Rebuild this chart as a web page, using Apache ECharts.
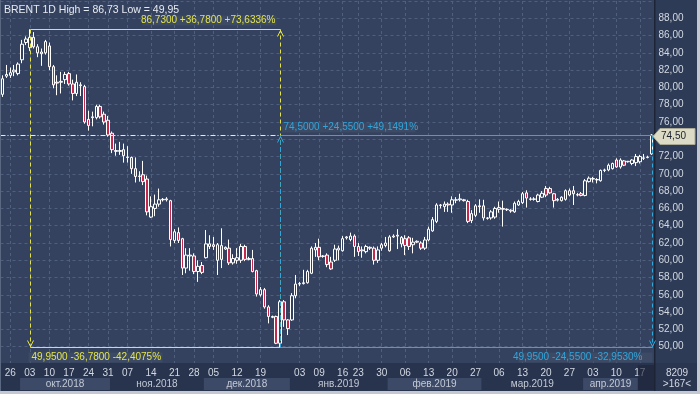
<!DOCTYPE html>
<html><head><meta charset="utf-8">
<script src="https://cdn.jsdelivr.net/npm/echarts@6/dist/echarts.min.js"></script>
<style>html,body{margin:0;padding:0;background:#34425f;}#chart{width:700px;height:394px;}</style>
</head><body><div id="chart"></div>
<script>
// ---- DATA ----
const open = [79.2,81.3,81.4,81.8,81.6,83.2,85.2,84.6,85.8,84.0,84.1,84.0,84.8,82.4,80.6,80.6,80.9,81.6,80.4,79.3,
80.3,80.1,76.3,76.5,76.5,77.8,76.9,76.2,74.7,72.7,72.6,72.8,71.9,71.9,70.6,69.7,69.9,69.4,65.0,66.0,
66.5,67.0,67.0,66.9,62.3,63.2,62.5,59.1,60.6,60.5,58.7,59.4,60.3,61.6,61.8,60.0,61.7,61.3,61.4,59.7,
60.0,60.0,61.6,60.1,60.2,58.8,56.0,56.6,54.6,53.5,53.5,50.4,55.2,53.1,53.1,55.9,57.25,57.3,57.4,58.5,
61.2,61.5,60.45,60.6,59.8,60.0,61.2,61.1,62.6,62.4,62.8,61.6,61.1,61.0,61.5,61.4,60.0,61.4,61.7,61.1,
62.7,62.8,62.65,62.5,62.6,61.8,62.2,62.0,61.4,62.35,63.4,64.5,66.35,66.2,66.5,66.4,66.95,67.0,67.0,66.8,
64.6,65.2,66.3,66.3,64.85,64.9,65.0,65.9,66.0,65.9,65.8,65.6,66.4,66.66,67.8,67.1,67.05,66.8,67.3,68.3,
68.3,67.7,66.95,66.9,67.05,67.55,68.05,67.6,67.7,67.5,69.1,69.4,69.3,69.2,70.4,70.45,70.6,71.6,70.8,71.5,
71.4,71.2,71.3,71.4,71.8,71.9,72.3];
const close = [81.0,81.5,81.7,82.0,82.7,85.0,85.6,85.8,84.7,84.7,83.9,85.3,82.4,80.3,80.5,80.7,81.5,80.4,79.3,80.6,
80.2,76.0,75.6,76.6,77.8,76.6,76.0,74.5,72.8,72.6,72.7,72.1,71.95,70.6,69.7,69.75,69.1,65.6,66.2,66.5,
67.0,67.05,67.1,62.4,63.3,62.3,59.1,60.6,60.5,58.7,59.3,58.6,61.9,61.9,61.6,61.8,60.1,61.5,59.7,60.2,
60.3,61.6,60.1,60.2,58.7,56.1,56.6,54.6,53.5,53.4,50.4,55.2,53.1,52.1,55.9,57.25,57.3,57.4,58.7,61.4,
61.5,60.4,60.5,59.5,59.0,61.3,61.4,62.5,62.7,62.8,61.6,61.0,61.2,61.6,61.4,60.0,61.2,61.8,62.0,62.7,
62.8,62.9,61.9,61.7,61.6,62.1,62.1,61.4,62.35,63.6,64.7,66.4,66.4,66.5,66.4,67.0,67.0,67.1,66.9,64.5,
65.4,66.3,66.2,64.9,64.9,65.6,66.0,66.1,65.9,65.85,65.7,66.6,66.8,67.7,67.2,67.05,67.1,67.55,67.75,67.55,
67.8,66.9,67.05,67.3,68.05,68.05,67.7,67.55,67.5,69.2,69.5,69.45,69.35,70.4,70.45,71.0,71.2,70.8,71.6,71.0,
71.45,71.6,72.0,72.0,71.85,71.95,74.5];
const low = [78.9,81.1,81.1,81.3,81.4,82.8,84.9,84.2,84.5,83.5,82.5,83.8,82.0,79.9,79.1,79.3,80.4,80.2,78.5,79.0,
79.0,75.8,75.0,75.5,76.3,76.4,75.7,74.3,72.4,72.1,72.2,71.3,71.3,70.0,69.0,69.1,68.7,65.2,64.9,65.1,
66.2,66.8,66.8,61.6,62.0,62.0,58.3,58.5,58.8,58.4,57.5,58.4,60.2,61.3,61.2,58.3,59.1,61.2,59.45,59.5,
59.6,59.7,59.9,60.0,58.6,55.8,55.8,54.4,52.7,53.3,50.3,49.95,52.3,51.35,53.0,55.6,57.0,57.2,57.3,58.4,
60.4,60.0,60.3,59.2,58.9,59.8,60.0,61.0,62.4,62.2,60.4,60.5,60.3,60.8,61.2,59.5,59.7,61.1,61.5,61.0,
62.6,61.3,61.5,60.6,61.2,60.8,62.0,61.2,61.2,62.2,63.3,64.3,66.0,65.6,65.6,65.5,66.6,66.8,66.8,64.3,
64.3,65.0,65.5,64.6,64.7,64.7,64.8,65.5,63.9,65.7,65.5,65.5,66.3,66.5,66.1,66.9,66.9,66.7,67.2,67.3,
67.7,66.1,66.8,66.8,66.9,67.4,66.4,67.4,67.4,67.4,69.0,69.0,68.9,69.1,70.2,70.3,70.5,70.7,70.6,70.9,
71.3,71.0,70.9,71.2,71.6,71.8,72.2];
const high = [81.4,82.6,82.3,82.6,82.9,85.5,85.9,86.73,86.4,85.0,84.5,85.5,85.2,82.6,81.4,81.8,81.8,81.8,80.9,81.5,
80.6,80.3,77.3,77.2,78.0,78.0,77.2,76.7,74.9,73.5,73.7,73.5,73.2,72.0,71.9,70.3,71.5,69.8,67.4,67.6,
68.3,67.2,67.3,67.0,63.6,63.8,62.6,61.4,61.4,60.8,60.0,59.8,63.5,62.9,62.7,62.0,63.7,61.6,62.4,60.7,
61.4,61.9,61.8,60.4,61.2,58.9,56.9,56.8,54.8,53.6,53.6,55.4,55.4,53.2,56.2,58.3,57.5,58.9,58.9,61.6,
62.0,62.5,60.6,60.8,60.4,61.8,61.7,62.8,62.8,63.2,63.0,62.0,61.6,61.8,61.6,61.6,61.6,62.0,62.7,62.9,
63.0,63.6,62.8,62.9,62.8,62.6,62.3,62.2,62.7,63.9,65.0,66.6,66.5,66.8,66.7,67.4,67.3,67.7,67.1,67.0,
65.8,66.5,67.05,67.0,65.0,65.8,66.2,66.8,66.9,66.0,65.9,66.8,67.0,67.9,68.1,67.3,67.3,67.7,68.0,68.6,
68.5,67.8,67.2,67.4,68.2,68.3,68.6,67.8,67.9,69.4,69.7,69.65,69.5,70.5,70.6,71.2,71.3,71.8,71.8,71.6,
71.5,71.7,72.3,72.2,72.3,72.1,74.6];
// week tick labels and the bar they sit on
const weekLabels = ['26','03','10','17','24','31','07','14','21','28','05','12','19','03','09','16','23','30','06','13','20','27','06','13','20','27','03','10','17'];
const weekLabelBars = [2,7,12,17,22,27,32,38,44,49,54,60,66,76,81,87,91,97,103,109,115,121,127,133,139,145,151,157,163];
// month row
const monthNames = ['окт.2018','ноя.2018','дек.2018','янв.2019','фев.2019','мар.2019','апр.2019'];
const monthStartBars = [5,28,52,74,99,123,149];
const monthEndBar = 163;
// price axis
const yMin = 48, yMax = 90, yStep = 2;
const symbolName = 'BRENT', periodName = '1D';
const footerTop = '8209', footerBottom = '>167<';

// ---- helpers ----
const bars = open.map((_, i) => i);
const fmt = (v, d) => v.toFixed(d).replace('.', ',');
const hiVal = Math.max(...high), hiBar = high.indexOf(hiVal);
const loVal = Math.min(...low), loBar = low.indexOf(loVal);
const lastBar = close.length - 1, lastVal = close[lastBar];
const labelMap = new Map(weekLabelBars.map((b, k) => [b, weekLabels[k]]));

const FONT = 'Liberation Sans, Arial, sans-serif';
const BG = '#34425f';
const GRID = '#4f5f7e';
const TXT = '#d3d9e3';

const option = {
  animation: false,
  backgroundColor: BG,
  textStyle: {fontFamily: FONT},
  grid: {left: 0.5, right: 46.5, top: 1, height: 363, containLabel: false},
  xAxis: {
    type: 'category', data: bars, boundaryGap: true,
    axisLine: {show: false}, axisTick: {show: false},
    axisLabel: {
      interval: (i) => labelMap.has(i),
      formatter: (v, i) => labelMap.get(i) || '',
      color: TXT, fontSize: 10, fontFamily: FONT, margin: 4
    },
    splitLine: {show: true, alignWithLabel: true, interval: (i) => labelMap.has(i),
      lineStyle: {color: GRID, type: [3, 3], width: 1}}
  },
  yAxis: {
    type: 'value', position: 'right', min: yMin, max: yMax, interval: yStep,
    axisLine: {show: false}, axisTick: {show: false},
    axisLabel: {formatter: (v) => (v < yMin + yStep || v > yMax - yStep) ? '' : fmt(v, 2),
      color: TXT, fontSize: 10, fontFamily: FONT, margin: 5, align: 'left'},
    splitLine: {lineStyle: {color: GRID, type: [3, 3], width: 1}}
  },
  series: [{
    type: 'candlestick', barWidth: 3,
    data: bars.map(i => [open[i], close[i], low[i], high[i]]),
    itemStyle: {color: BG, color0: '#c4284c', borderColor: '#ffffff', borderColor0: '#ffffff', borderWidth: 1},
    markLine: {silent: true, symbol: 'none', label: {show: false}, animation: false,
      lineStyle: {color: '#e6e8ec', type: [5, 2, 1, 2], width: 1},
      data: [{yAxis: lastVal}]}
  }]
};

const chart = echarts.init(document.getElementById('chart'));
chart.setOption(option);

function buildGraphics() {
  const P = (i, v) => chart.convertToPixel({gridIndex: 0}, [i, v]);
  const band = P(1, 50)[0] - P(0, 50)[0];
  const plotRight = 655;
  const stripTop = Math.round(P(0, yMin)[1]) - 1;
  const stripBot = 391;
  const r = (v) => Math.round(v) + 0.5;
  const els = [];
  const text = (t, x, y, fill, align, z, size) => ({type: 'text', z: z, style: {
    text: t, x: x, y: y, fill: fill, font: (size || 10) + 'px ' + FONT,
    align: align, textAlign: align, verticalAlign: 'middle', textVerticalAlign: 'middle'}});
  const line = (x1, y1, x2, y2, c, dash, z) => ({type: 'line', z: z, shape: {x1, y1, x2, y2},
    style: {stroke: c, lineWidth: 1, lineDash: dash || null}});
  const chev = (x, y, dir, c, z) => ({type: 'polyline', z: z,
    shape: {points: [[x - 3, y - 6 * dir], [x, y], [x + 3, y - 6 * dir]]}, style: {stroke: c, fill: null, lineWidth: 1}});

  // panels
  els.push({type: 'rect', z: -10, shape: {x: plotRight, y: 0, width: 700 - plotRight, height: 394}, style: {fill: '#2e3b56'}});
  els.push({type: 'rect', z: -9, shape: {x: 0, y: stripTop, width: plotRight, height: stripBot - stripTop}, style: {fill: '#28334d'}});
  els.push({type: 'rect', z: 1, shape: {x: 0, y: stripTop, width: plotRight, height: 2}, style: {fill: '#28334d'}});
  els.push({type: 'rect', z: -9, shape: {x: plotRight, y: stripTop, width: 700 - plotRight, height: stripBot - stripTop}, style: {fill: '#2a3550'}});
  // month boxes + labels
  monthNames.forEach((m, k) => {
    const s = monthStartBars[k], e = k + 1 < monthStartBars.length ? monthStartBars[k + 1] : monthEndBar;
    const x0 = P(s, 50)[0] - band / 2, x1 = P(e, 50)[0] - band / 2;
    if (k % 2 === 0) els.push({type: 'rect', z: -8, shape: {x: x0, y: 378, width: x1 - x0, height: 12}, style: {fill: '#3d4a67'}});
    els.push(text(m, (x0 + x1) / 2, 384, '#c3cad6', 'center', -7));
  });
  // right-edge darker overlay on the date strip
  const ov = P(monthEndBar, 50)[0] - band / 2;
  els.push({type: 'rect', z: 5, shape: {x: ov, y: stripTop + 2, width: plotRight - ov, height: stripBot - stripTop - 3}, style: {fill: 'rgba(28,36,56,0.6)'}});
  // separators and frame
  els.push({type: 'rect', z: 20, shape: {x: plotRight - 1, y: 0, width: 1.5, height: stripBot}, style: {fill: '#1c2435'}});
  els.push({type: 'rect', z: 20, shape: {x: 0, y: 0, width: 1, height: stripBot}, style: {fill: '#5a6882'}});
  els.push({type: 'rect', z: 30, shape: {x: 0, y: stripBot, width: 700, height: 394 - stripBot}, style: {fill: '#c4c8d0'}});
  els.push({type: 'rect', z: 30, shape: {x: 697, y: 0, width: 3, height: 394}, style: {fill: '#c4c8d0'}});
  // footer counters
  els.push(text(footerTop, 677, 373, TXT, 'center', 25));
  els.push(text(footerBottom, 677, 384, TXT, 'center', 25));

  // title
  els.push(text(`${symbolName} ${periodName} High = ${fmt(hiVal, 2)} Low = ${fmt(loVal, 2)}`, 4, 10, '#e6eaf2', 'left', 15, 10.5));

  // measurement tools
  const A = P(hiBar, hiVal), B = P(loBar, loVal), C = P(lastBar, lastVal);
  const ax = r(A[0]), bx = r(B[0]), cx = r(C[0]);
  const ay = r(A[1]), by = r(B[1]), cy = r(C[1]);
  const Y = '#e4e44a', U = '#2fa6dc';
  // yellow: high -> low
  els.push(line(ax, ay, bx, ay, Y, null, 40));
  els.push(line(ax, by, bx, by, Y, null, 40));
  els.push(line(ax, ay, ax, by, Y, [4, 3], 40));
  els.push(chev(ax, by - 1, 1, Y, 40));
  els.push(line(bx, by, bx, ay, Y, [4, 3], 40));
  els.push(chev(bx, ay + 1, -1, Y, 40));
  // blue: low -> last
  els.push(line(bx, cy, cx, cy, U, null, 41));
  els.push(line(bx, by, cx, by, U, null, 41));
  els.push(line(bx, by, bx, cy, U, [4, 3], 41));
  els.push(chev(bx, cy + 1, -1, U, 41));
  els.push(line(cx, cy, cx, by, U, [4, 3], 41));
  els.push(chev(cx, by - 1, 1, U, 41));
  // measurement texts
  const d1 = hiVal - loVal, d2 = lastVal - loVal;
  const tYT = `${fmt(hiVal, 4)} +${fmt(d1, 4)} +${fmt(d1 / loVal * 100, 4)}%`;
  const tYB = `${fmt(loVal, 4)} -${fmt(d1, 4)} -${fmt(d1 / hiVal * 100, 4)}%`;
  const tBT = `${fmt(lastVal, 4)} +${fmt(d2, 4)} +${fmt(d2 / loVal * 100, 4)}%`;
  const tBB = `${fmt(loVal, 4)} -${fmt(d2, 4)} -${fmt(d2 / lastVal * 100, 4)}%`;
  const boxW = 134, boxFill = 'rgba(62,75,102,0.85)';
  els.push({type: 'rect', z: 42, shape: {x: bx - 4 - boxW, y: ay - 14, width: boxW, height: 10}, style: {fill: boxFill}});
  els.push(text(tYT, bx - 5, ay - 9, Y, 'right', 43));
  els.push({type: 'rect', z: 42, shape: {x: ax - 2, y: by + 5, width: boxW, height: 10}, style: {fill: boxFill}});
  els.push(text(tYB, ax + 1, by + 10, Y, 'left', 43));
  els.push({type: 'rect', z: 42, shape: {x: bx + 1, y: cy - 13, width: boxW, height: 10}, style: {fill: boxFill}});
  els.push(text(tBT, bx + 3, cy - 8, U, 'left', 43));
  els.push({type: 'rect', z: 42, shape: {x: cx - boxW, y: by + 5, width: boxW, height: 10}, style: {fill: boxFill}});
  els.push(text(tBB, cx - 10, by + 10, U, 'right', 43));

  // last price tag
  const ty = cy + 1;
  els.push({type: 'polygon', z: 50, shape: {points: [[plotRight - 2, ty], [plotRight + 5, ty - 8], [695, ty - 8], [695, ty + 8], [plotRight + 5, ty + 8]]},
    style: {fill: '#dcdcc6', stroke: '#a9a996', lineWidth: 1}});
  els.push(text(fmt(lastVal, 2), plotRight + 6, ty, '#1b1f2a', 'left', 51));
  return els;
}
chart.setOption({graphic: {elements: buildGraphics()}});
</script></body></html>
